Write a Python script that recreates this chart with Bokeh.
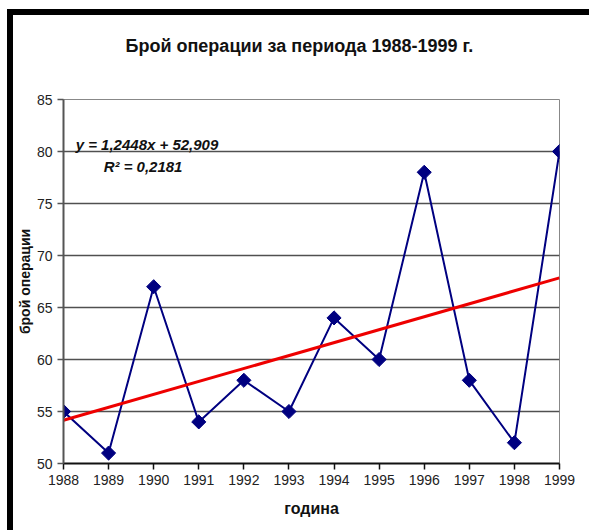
import math
from bokeh.plotting import figure
from bokeh.models import ColumnDataSource, FixedTicker, Label, Range1d, Title
from bokeh.embed import file_html
from bokeh.resources import INLINE

# Number of operations per year
years = [1988, 1989, 1990, 1991, 1992, 1993, 1994, 1995, 1996, 1997, 1998, 1999]
operations = [55, 51, 67, 54, 58, 55, 64, 60, 78, 58, 52, 80]

# Linear trend (x = 1..12 for the years), as stated in the equation label
slope = 1.2448
intercept = 52.909
r_squared = 0.2181

y_ticks = [50, 55, 60, 65, 70, 75, 80, 85]

FONT = "Liberation Sans"
TEXT = "#111111"

src = ColumnDataSource(data=dict(year=years, ops=operations))
trend_src = ColumnDataSource(data=dict(
    x=[years[0], years[-1]],
    y=[slope * 1 + intercept, slope * len(years) + intercept],
))

p = figure(
    title=None,
    frame_width=496, frame_height=364,
    min_border_left=50, min_border_right=30,
    min_border_top=84, min_border_bottom=67,
    x_range=Range1d(years[0], years[-1]),
    y_range=Range1d(y_ticks[0], y_ticks[-1]),
    output_backend="svg", toolbar_location=None,
    background_fill_color="white", border_fill_color="white",
)

# Thick black edge along the top and left of the chart area
p.styles = {
    "margin-left": "7px",
    "margin-top": "9px",
    "border-top": "6px solid black",
    "border-left": "6px solid black",
}

# Empty band between the frame and the title, then the title itself
p.add_layout(Title(text=" ", text_font=FONT, text_font_size="10px", standoff=12), "above")
p.add_layout(Title(text="Брой операции за периода 1988-1999 г.", align="left", offset=62,
                   text_font=FONT, text_font_size="18px", text_font_style="bold",
                   text_color=TEXT, standoff=37), "above")

# Axes
p.xaxis.ticker = FixedTicker(ticks=years)
p.yaxis.ticker = FixedTicker(ticks=y_ticks)
for ax in (p.xaxis[0], p.yaxis[0]):
    ax.major_label_text_font = FONT
    ax.major_label_text_font_size = "14px"
    ax.major_label_text_color = "#222222"
    ax.major_tick_in = 0
    ax.major_tick_out = 6
    ax.minor_tick_line_color = None
    ax.major_label_standoff = 5
    ax.axis_label_text_font = FONT
    ax.axis_label_text_font_style = "bold"
    ax.axis_label_text_color = TEXT

p.yaxis.axis_label = "брой операции"
p.yaxis.axis_label_text_font_size = "14px"
p.yaxis.axis_label_standoff = 1

# x-axis caption, set a little left of the frame centre
p.add_layout(Title(text="година", align="center", offset=-25,
                   text_font=FONT, text_font_size="16px", text_font_style="bold",
                   text_color=TEXT, standoff=21), "below")

p.xaxis.axis_line_color = "#111111"
p.xaxis.axis_line_width = 2
p.xaxis.major_tick_line_color = "#111111"
p.xaxis.major_tick_line_width = 1.5
p.yaxis.axis_line_color = "#555555"
p.yaxis.axis_line_width = 2
p.yaxis.major_tick_line_color = "#555555"
p.yaxis.major_tick_line_width = 1.5

p.xgrid.grid_line_color = None
p.ygrid.ticker = FixedTicker(ticks=y_ticks)
p.ygrid.grid_line_color = "#505050"
p.ygrid.grid_line_width = 1.5

p.outline_line_color = "#888888"
p.outline_line_width = 1

# Series
p.line("year", "ops", source=src, line_color="#000080", line_width=2)
p.scatter("year", "ops", source=src, marker="square", angle=math.pi / 4,
          size=10, fill_color="#000080", line_color="#000080")

# Trend line
p.line("x", "y", source=trend_src, line_color="#ee0000", line_width=3)

# Equation of the trend
p.add_layout(Label(x=1988.27, y=80.67,
                   text=f"y = {slope:.4f}x + {intercept:.3f}".replace(".", ","),
                   text_font=FONT, text_font_size="15px", text_font_style="bold italic",
                   text_color=TEXT, text_baseline="middle"))
p.add_layout(Label(x=1988.89, y=78.55,
                   text=f"R\u00b2 = {r_squared:.4f}".replace(".", ","),
                   text_font=FONT, text_font_size="15px", text_font_style="bold italic",
                   text_color=TEXT, text_baseline="middle"))

open("out.html", "w").write(file_html(p, INLINE))
